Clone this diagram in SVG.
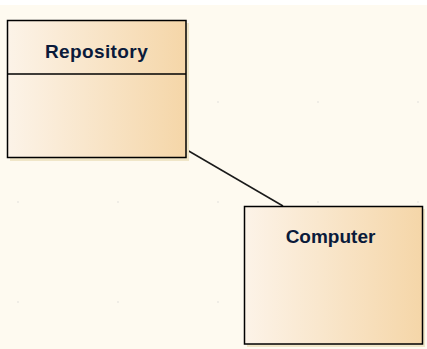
<svg xmlns="http://www.w3.org/2000/svg" width="427" height="349" viewBox="0 0 427 349">
<defs>
<linearGradient id="g" x1="0" y1="0" x2="1" y2="0">
<stop offset="0" stop-color="#FCF3E8"/>
<stop offset="1" stop-color="#F5D6A8"/>
</linearGradient>
<style>
.box{fill:url(#g);stroke:#000;stroke-width:1.5}
.sh{fill:#F0E6C8}
.t{font-family:"Liberation Sans",Arial,sans-serif;font-weight:bold;font-size:19px;fill:#0A1A3A;text-anchor:middle}
.dot{fill:#C8C8C8}
</style>
</defs>
<rect width="427" height="349" fill="#FEFAF0"/>
<rect width="427" height="5" fill="#FFFFFF"/>
<g id="grid">
<rect class="dot" x="217.5" y="101.5" width="1" height="1"/>
<rect class="dot" x="317.5" y="101.5" width="1" height="1"/>
<rect class="dot" x="417.5" y="101.5" width="1" height="1"/>
<rect class="dot" x="17.5" y="201.5" width="1" height="1"/>
<rect class="dot" x="117.5" y="201.5" width="1" height="1"/>
<rect class="dot" x="217.5" y="201.5" width="1" height="1"/>
<rect class="dot" x="317.5" y="201.5" width="1" height="1"/>
<rect class="dot" x="417.5" y="201.5" width="1" height="1"/>
<rect class="dot" x="17.5" y="301.5" width="1" height="1"/>
<rect class="dot" x="117.5" y="301.5" width="1" height="1"/>
<rect class="dot" x="217.5" y="301.5" width="1" height="1"/>
</g>
<g id="connectors">
<line x1="187" y1="150" x2="283" y2="206" stroke="#1a1a1a" stroke-width="1.5"/>
</g>
<g id="repository">
<rect class="sh" x="10" y="23" width="179" height="138"/>
<rect class="box" x="7.5" y="20.5" width="178.5" height="137"/>
<line x1="7.5" y1="74" x2="186" y2="74" stroke="#000" stroke-width="1.5"/>
<text class="t" x="96.5" y="57.5" letter-spacing="0.4">Repository</text>
</g>
<g id="computer">
<rect class="sh" x="247" y="209" width="178" height="138"/>
<rect class="box" x="244.5" y="206.5" width="178" height="137.5"/>
<text class="t" x="330.5" y="243">Computer</text>
</g>
</svg>
